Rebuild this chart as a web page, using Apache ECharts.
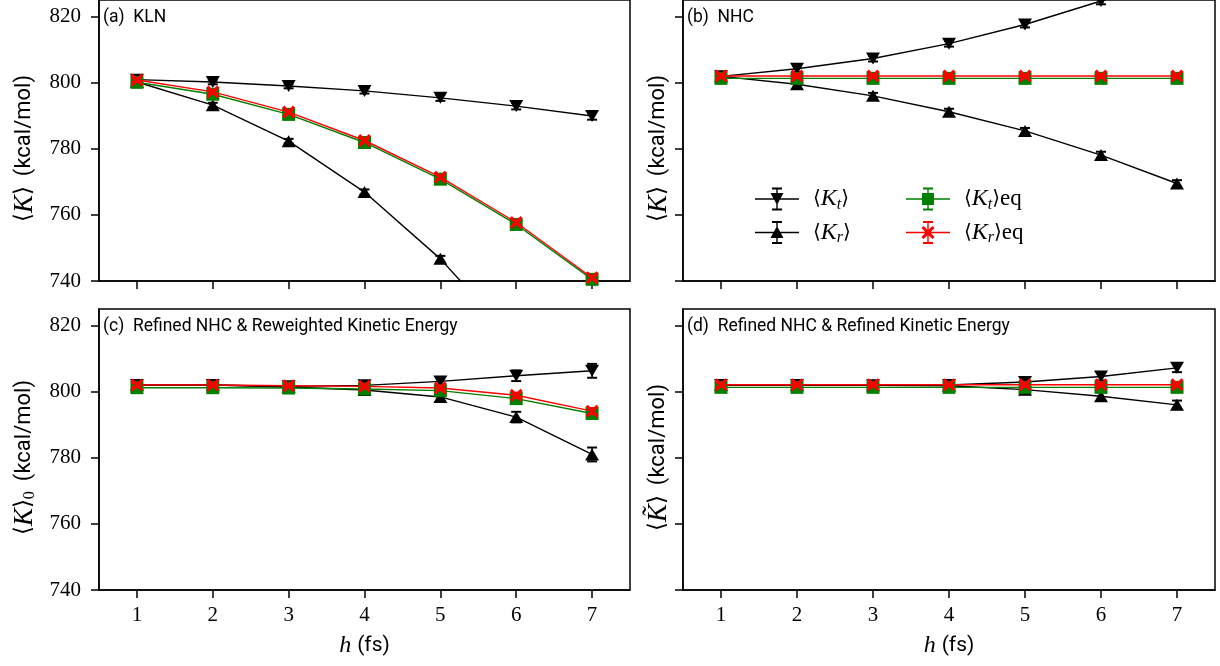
<!DOCTYPE html>
<html>
<head>
<meta charset="utf-8">
<script src="https://cdn.jsdelivr.net/npm/echarts@6/dist/echarts.min.js"></script>
<style>
  html, body { margin: 0; background: #fff; }
  #main { width: 1220px; height: 666px; }
</style>
</head>
<body>
<div id="main"></div>
<script>
// time step h (fs)
const hValues = [1, 2, 3, 4, 5, 6, 7]
const yTicks = [740, 760, 780, 800, 820]

// (a) KLN
const klnKt = [800.9, 800.2, 799.0, 797.5, 795.4, 792.9, 789.9]
const klnKr = [800.2, 793.2, 782.3, 766.9, 746.7, 721.5, 692.0]
const klnKtEq = [800.1, 796.5, 790.4, 781.9, 770.8, 757.1, 740.5]
const klnKrEq = [800.8, 797.2, 791.1, 782.5, 771.4, 757.7, 741.0]
const klnErr = [0.7, 0.7, 0.7, 0.8, 0.9, 1.0, 1.1]
const klnEqErr = [0.5, 0.5, 0.5, 0.5, 0.5, 0.6, 0.6]

// (b) NHC
const nhcKt = [801.9, 804.2, 807.3, 811.8, 817.6, 824.7, 832.5]
const nhcKr = [801.9, 799.5, 796.0, 791.2, 785.4, 778.1, 769.5]
const nhcKtEq = [801.3, 801.3, 801.3, 801.3, 801.3, 801.3, 801.3]
const nhcKrEq = [802.0, 802.0, 802.0, 802.0, 802.0, 802.0, 802.0]
const nhcErr = [0.7, 1.0, 0.9, 0.9, 0.9, 1.0, 1.0]
const nhcEqErr = [0.5, 0.5, 0.5, 0.5, 0.5, 0.5, 0.5]

// (c) refined NHC & reweighted kinetic energy
const rwKt = [802.0, 802.0, 801.6, 801.9, 803.1, 804.8, 806.3]
const rwKr = [802.0, 802.0, 801.4, 800.5, 798.4, 792.3, 781.0]
const rwKtEq = [801.2, 801.2, 801.1, 800.8, 800.3, 797.9, 793.4]
const rwKrEq = [802.0, 802.0, 801.8, 801.6, 801.1, 798.9, 794.1]
const rwErr = [0.9, 0.9, 0.9, 1.0, 1.3, 1.6, 2.1]
const rwEqErr = [0.6, 0.6, 0.6, 0.6, 0.7, 0.8, 0.9]

// (d) refined NHC & refined kinetic energy
const rfKt = [802.0, 802.0, 801.9, 802.0, 802.9, 804.6, 807.2]
const rfKr = [802.0, 802.0, 801.9, 801.8, 800.6, 798.6, 796.0]
const rfKtEq = [801.3, 801.3, 801.3, 801.3, 801.3, 801.3, 801.3]
const rfKrEq = [802.1, 802.1, 802.1, 802.1, 802.1, 802.1, 802.1]
const rfErr = [0.9, 0.9, 0.9, 0.9, 1.1, 1.2, 1.3]
const rfEqErr = [0.6, 0.6, 0.6, 0.6, 0.6, 0.6, 0.6]

const serif = 'Liberation Serif'
const sans = 'Roboto'
const BLACK = '#000000'
const GREEN = '#008000'
const RED = '#ff0000'

// X marker (filled) and legend icons (line + error bar + marker)
const xMarker = 'path://M2.6 0.4L13.6 11.4L11.4 13.6L0.4 2.6Z M11.4 0.4L13.6 2.6L2.6 13.6L0.4 11.4Z'
const iconBase = 'M0 11.3h44v1.4h-44Z M21.3 1.5h1.4v21h-1.4Z M17 0.5h10v2h-10Z M17 21.5h10v2h-10Z '
const legendIcons = {
  Kt: 'path://' + iconBase + 'M15.5 6h13l-6.5 12Z',
  Kr: 'path://' + iconBase + 'M22 5.5l6.5 12h-13Z',
  KtEq: 'path://' + iconBase + 'M16 6h12v12h-12Z',
  KrEq: 'path://' + iconBase + 'M17.6 5.4L28.6 16.4L26.4 18.6L15.4 7.6Z M26.4 5.4L28.6 7.6L17.6 18.6L15.4 16.4Z',
}
const legendText = {
  Kt: '{b|⟨}{i|K}{s|t}{b|⟩}',
  Kr: '{b|⟨}{i|K}{s|r}{b|⟩}',
  KtEq: '{b|⟨}{i|K}{s|t}{b|⟩}{e|eq}',
  KrEq: '{b|⟨}{i|K}{s|r}{b|⟩}{e|eq}',
}
const mathRich = {
  b: { fontFamily: 'DejaVu Serif', fontSize: 20, color: BLACK },
  i: { fontFamily: serif, fontStyle: 'italic', fontSize: 24, color: BLACK },
  s: { fontFamily: serif, fontStyle: 'italic', fontSize: 16, color: BLACK, padding: [11, 0, 0, 0] },
  n: { fontFamily: serif, fontSize: 16, color: BLACK, padding: [11, 0, 0, 0] },
  e: { fontFamily: serif, fontSize: 23, color: BLACK },
  a: { fontFamily: sans, fontSize: 21, color: BLACK, padding: [0, 0, 0, 6] },
  yb: { fontFamily: 'DejaVu Serif', fontSize: 23, color: BLACK },
  yi: { fontFamily: serif, fontStyle: 'italic', fontSize: 27, color: BLACK },
  ya: { fontFamily: sans, fontSize: 22, color: BLACK, padding: [0, 16, 0, 10] },
}

const grids = [
  { left: 99, top: 0, width: 531, height: 281 },
  { left: 683, top: 0, width: 532, height: 281 },
  { left: 99, top: 309, width: 531, height: 281 },
  { left: 683, top: 309, width: 532, height: 281 },
].map(g => ({ ...g, show: true, borderColor: BLACK, borderWidth: 1.5, backgroundColor: '#fff' }))

const yNames = [
  '{yb|⟨}{yi|K}{yb|⟩}{ya|(kcal/mol)}',
  '{yb|⟨}{yi|K}{yb|⟩}{ya|(kcal/mol)}',
  '{yb|⟨}{yi|K}{yb|⟩}{n|0}{ya|(kcal/mol)}',
  '{yb|⟨}{yi|K̃}{yb|⟩}{ya|(kcal/mol)}',
]
const titles = ['(a)  KLN', '(b)  NHC', '(c)  Refined NHC & Reweighted Kinetic Energy', '(d)  Refined NHC & Refined Kinetic Energy']

const xAxes = grids.map((g, i) => ({
  type: 'value',
  gridIndex: i,
  min: 0.5,
  max: 7.5,
  splitLine: { show: false },
  axisLine: { lineStyle: { color: BLACK, width: 1.5 } },
  axisTick: { inside: false, length: 8, lineStyle: { color: BLACK, width: 1.5 }, customValues: hValues },
  axisLabel: {
    show: i >= 2, margin: 15, color: BLACK, fontFamily: serif, fontSize: 21, customValues: hValues,
  },
  name: i >= 2 ? '{i|h}{a|(fs)}' : '',
  nameLocation: 'middle',
  nameGap: 44,
  nameTextStyle: { rich: mathRich },
}))

const yAxes = grids.map((g, i) => ({
  type: 'value',
  gridIndex: i,
  min: 740,
  max: 825,
  splitLine: { show: false },
  axisLine: { lineStyle: { color: BLACK, width: 1.5 } },
  axisTick: { inside: false, length: 8, lineStyle: { color: BLACK, width: 1.5 }, customValues: yTicks },
  axisLabel: {
    show: i % 2 === 0, margin: 18, color: BLACK, fontFamily: serif, fontSize: 21, customValues: yTicks,
  },
  name: yNames[i],
  nameLocation: 'middle',
  nameRotate: 90,
  nameGap: i % 2 === 0 ? 61 : 11,
  nameTextStyle: { rich: mathRich },
}))

function lineSeries(gi, name, values, color, symbol, size, rotate, z) {
  return {
    type: 'line',
    name,
    xAxisIndex: gi,
    yAxisIndex: gi,
    data: hValues.map((h, k) => [h, values[k]]),
    symbol,
    symbolSize: size,
    symbolRotate: rotate,
    showAllSymbol: true,
    clip: true,
    z,
    itemStyle: { color, borderWidth: 0 },
    lineStyle: { color, width: 1.4 },
    emphasis: { disabled: true },
  }
}

function errorBars(gi, values, errs, color, z) {
  return {
    type: 'custom',
    xAxisIndex: gi,
    yAxisIndex: gi,
    clip: true,
    silent: true,
    z,
    data: hValues.map((h, k) => [h, values[k], errs[k]]),
    renderItem(params, api) {
      const x = api.value(0)
      const y = api.value(1)
      const e = api.value(2)
      if (y + e < 740 || y - e > 825) return null
      const lo = api.coord([x, y - e])
      const hi = api.coord([x, y + e])
      const cap = 5
      const st = { stroke: color, lineWidth: 1.5 }
      return {
        type: 'group',
        children: [
          { type: 'line', shape: { x1: lo[0], y1: lo[1], x2: hi[0], y2: hi[1] }, style: st },
          { type: 'line', shape: { x1: lo[0] - cap, y1: lo[1], x2: lo[0] + cap, y2: lo[1] }, style: { stroke: color, lineWidth: 2 } },
          { type: 'line', shape: { x1: hi[0] - cap, y1: hi[1], x2: hi[0] + cap, y2: hi[1] }, style: { stroke: color, lineWidth: 2 } },
        ],
      }
    },
  }
}

const panels = [
  [klnKt, klnKr, klnKtEq, klnKrEq, klnErr, klnEqErr],
  [nhcKt, nhcKr, nhcKtEq, nhcKrEq, nhcErr, nhcEqErr],
  [rwKt, rwKr, rwKtEq, rwKrEq, rwErr, rwEqErr],
  [rfKt, rfKr, rfKtEq, rfKrEq, rfErr, rfEqErr],
]

const series = []
panels.forEach(([kt, kr, ktEq, krEq, err, eqErr], gi) => {
  series.push(errorBars(gi, kt, err, BLACK, 2))
  series.push(lineSeries(gi, 'Kt', kt, BLACK, 'triangle', [14, 12], 180, 2))
  series.push(errorBars(gi, kr, err, BLACK, 3))
  series.push(lineSeries(gi, 'Kr', kr, BLACK, 'triangle', [14, 12], 0, 3))
  series.push(errorBars(gi, ktEq, eqErr, GREEN, 4))
  series.push(lineSeries(gi, 'KtEq', ktEq, GREEN, 'rect', 13, 0, 4))
  series.push(errorBars(gi, krEq, eqErr, RED, 5))
  series.push(lineSeries(gi, 'KrEq', krEq, RED, xMarker, 13, 0, 5))
})

function legendBlock(left, names) {
  return {
    left,
    top: 187,
    orient: 'vertical',
    selectedMode: false,
    itemWidth: 44,
    itemHeight: 23,
    itemGap: 8,
    padding: 0,
    data: names.map(n => ({ name: n, icon: legendIcons[n] })),
    itemStyle: { borderWidth: 0 },
    formatter: n => legendText[n],
    textStyle: { padding: [0, 0, 0, 9], rich: mathRich },
  }
}

const chart = echarts.init(document.getElementById('main'), null, { renderer: 'canvas' })
chart.setOption({
  animation: false,
  backgroundColor: '#ffffff',
  title: titles.map((t, i) => ({
    text: t,
    left: i % 2 === 0 ? 103 : 687,
    top: i < 2 ? 9 : 318,
    padding: 0,
    textStyle: { fontFamily: sans, fontWeight: 'normal', fontSize: 17.5, color: BLACK },
  })),
  legend: [legendBlock(755, ['Kt', 'Kr']), legendBlock(906, ['KtEq', 'KrEq'])],
  grid: grids,
  xAxis: xAxes,
  yAxis: yAxes,
  series,
})
</script>
</body>
</html>
